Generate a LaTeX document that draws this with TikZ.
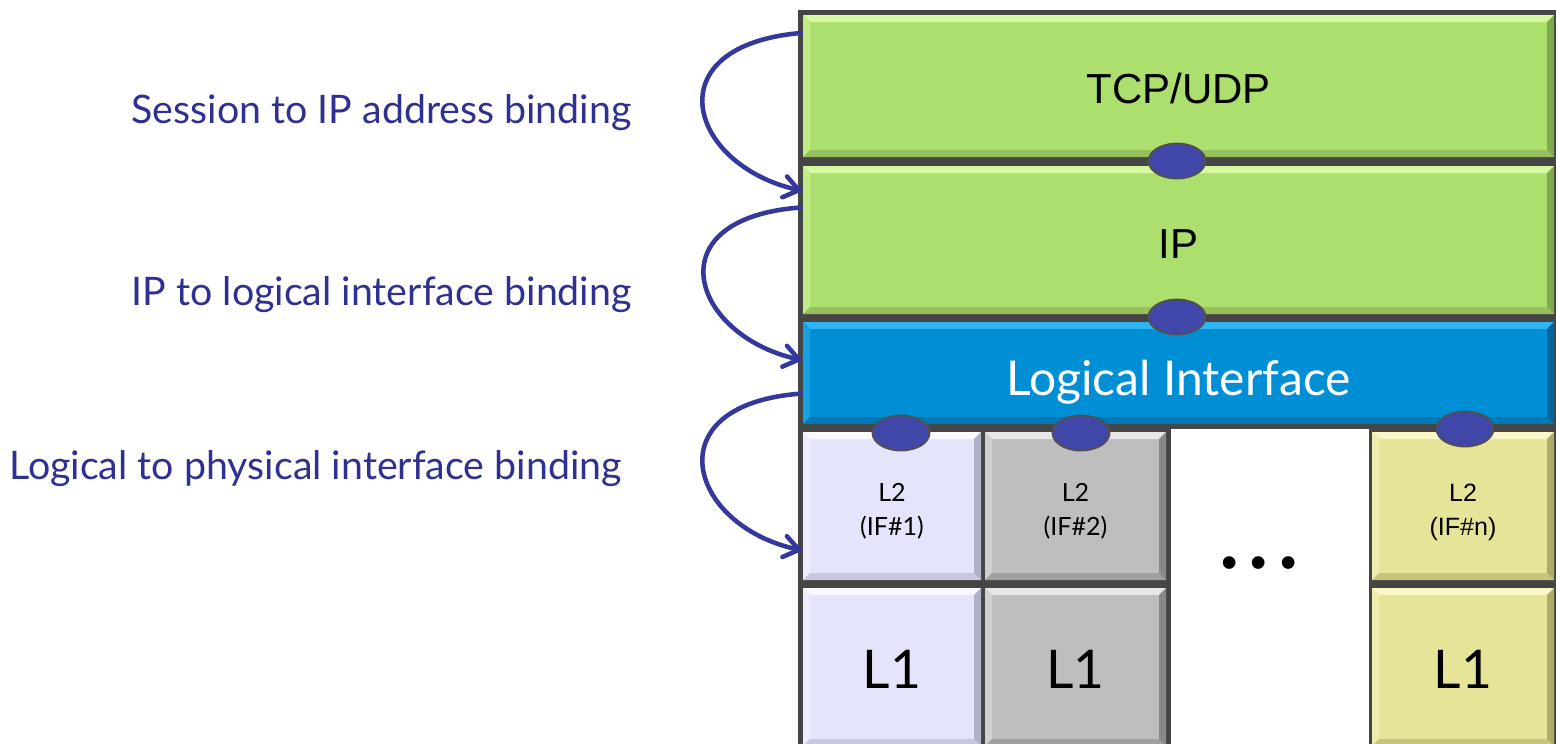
\documentclass[tikz,border=0pt]{standalone}
\usepackage{fontspec}
\setmainfont{Lato}
\newfontfamily\arial{Liberation Sans}
\usetikzlibrary{arrows.meta,shapes.geometric,calc}
\definecolor{frame}{HTML}{454545}
\definecolor{gbase}{HTML}{ADDF6F}
\definecolor{glight}{HTML}{D6FAA0}
\definecolor{gdark}{HTML}{7FA94C}
\definecolor{bbase}{HTML}{008FD5}
\definecolor{blight}{HTML}{2FB6F2}
\definecolor{bdark}{HTML}{00659C}
\definecolor{lbase}{HTML}{E4E4FB}
\definecolor{llight}{HTML}{F9F9FF}
\definecolor{ldark}{HTML}{B0B0C6}
\definecolor{sbase}{HTML}{BEBEBE}
\definecolor{slight}{HTML}{E6E6E6}
\definecolor{sdark}{HTML}{888888}
\definecolor{ybase}{HTML}{E6E499}
\definecolor{ylight}{HTML}{F9F8C6}
\definecolor{ydark}{HTML}{AEAC6A}
\definecolor{ellc}{HTML}{4147A8}
\definecolor{elledge}{HTML}{505050}
\definecolor{labc}{HTML}{2E3192}
\definecolor{arrc}{HTML}{33389A}
\newcommand{\placetxt}[2]{\raisebox{#1}[0pt][0pt]{\begin{tabular}[t]{@{}c@{}}#2\end{tabular}}}
\begin{document}
\begin{tikzpicture}[x=0.75pt,y=-0.75pt,
  bev/.style n args={3}{fill=#1, path picture={
    \path (path picture bounding box.north west) coordinate (ppnw)
          (path picture bounding box.north east) coordinate (ppne)
          (path picture bounding box.south west) coordinate (ppsw)
          (path picture bounding box.south east) coordinate (ppse);
    \fill[#2] (ppnw) -- (ppne) -- ([shift={(-5.25pt,-5.25pt)}]ppne) -- ([shift={(5.25pt,-5.25pt)}]ppnw) -- cycle;
    \fill[#1!55!#2] (ppnw) -- ([shift={(5.25pt,-5.25pt)}]ppnw) -- ([shift={(5.25pt,5.25pt)}]ppsw) -- (ppsw) -- cycle;
    \fill[#1!45!#3] (ppsw) -- (ppse) -- ([shift={(-5.25pt,5.25pt)}]ppse) -- ([shift={(5.25pt,5.25pt)}]ppsw) -- cycle;
    \fill[#3] (ppne) -- ([shift={(-5.25pt,-5.25pt)}]ppne) -- ([shift={(-5.25pt,5.25pt)}]ppse) -- (ppse) -- cycle;
  }},
  cell/.style={rectangle, inner sep=0pt, draw=none, align=center},
  greencell/.style={cell, bev={gbase}{glight}{gdark}, font=\arial\fontsize{31.5}{36}\selectfont},
  bluecell/.style={cell, bev={bbase}{blight}{bdark}, text=white, font=\fontsize{36}{42}\selectfont},
  lavcell/.style={cell, bev={lbase}{llight}{ldark}},
  graycell/.style={cell, bev={sbase}{slight}{sdark}},
  yelcell/.style={cell, bev={ybase}{ylight}{ydark}},
  l2font/.style={font=\fontsize{18.8}{25.5}\selectfont},
  l2arial/.style={font=\arial\fontsize{18.8}{25.5}\selectfont},
  l1font/.style={font=\fontsize{40}{44}\selectfont},
  joint/.style={ellipse, fill=ellc, draw=elledge, line width=1.4pt, inner sep=0pt,
    minimum width=42.75pt, minimum height=26.25pt},
  lab/.style={text=labc, font=\fontsize{29.5}{34}\selectfont, anchor=base east, inner sep=0pt},
  bind/.style={draw=arrc, line width=3.4pt, -{Straight Barb[length=11pt,width=16pt,line cap=round]}}
]
\useasboundingbox (0,0) rectangle (1556,743);
\clip (0,0) rectangle (1556,743);
\fill[white] (0,0) rectangle (1556,743);
% frame
\fill[frame] (798,10) rectangle (1556,750);
\fill[white] (1171,429) rectangle (1369,750);
% cells
\node[greencell, minimum width=563.25pt, minimum height=106.5pt] (tcp) at (1178.5,86) {\placetxt{-12.75pt}{TCP/UDP}};
\node[greencell, minimum width=563.25pt, minimum height=111pt] (ip) at (1178.5,240) {\placetxt{-13.5pt}{IP}};
\node[bluecell, minimum width=563.25pt, minimum height=76.5pt] (li) at (1178.5,373) {\placetxt{-16.5pt}{Logical Interface}};
\node[lavcell, l2font, minimum width=133.5pt, minimum height=111pt] (l2a) at (892,506) {\placetxt{3.75pt}{L2\\(IF\#1)}};
\node[graycell, l2font, minimum width=135.75pt, minimum height=111pt] (l2b) at (1075.5,506) {\placetxt{3.75pt}{L2\\(IF\#2)}};
\node[yelcell, l2arial, minimum width=136.5pt, minimum height=111pt] (l2n) at (1463,506) {\placetxt{3.75pt}{L2\\(IF\#n)}};
\node[lavcell, l1font, minimum width=133.5pt, minimum height=118.5pt] (l1a) at (892,667) {\placetxt{-15.75pt}{L1}};
\node[graycell, l1font, minimum width=135.75pt, minimum height=118.5pt] (l1b) at (1075.5,667) {\placetxt{-15.75pt}{L1}};
\node[yelcell, l1font, minimum width=136.5pt, minimum height=118.5pt] (l1n) at (1463,667) {\placetxt{-15.75pt}{L1}};
\node[anchor=base, inner sep=0pt, font=\arial\fontsize{35}{40}\selectfont] (dots) at (1259,578) {• • •};
% joints
\node[joint] (e1) at (1177,161) {};
\node[joint] (e2) at (1177,317) {};
\node[joint] (e3) at (901,433) {};
\node[joint] (e4) at (1081,433) {};
\node[joint] (e5) at (1465,429) {};
% labels
\node[lab] (t1) at (632,123) {Session to IP address binding};
\node[lab] (t2) at (632,305) {IP to logical interface binding};
\node[lab] (t3) at (622,479) {Logical to physical interface binding};
% binding arrows
\draw[bind] ($(tcp.north west)!0.127!(tcp.south west)$) .. controls +(-150,12) and +(-115,-26) .. ($(ip.north west)!0.17!(ip.south west)$);
\draw[bind] ($(ip.north west)!0.28!(ip.south west)$) .. controls +(-150,10) and +(-112,-25) .. ($(li.north west)!0.376!(li.south west)$);
\draw[bind] ($(li.north west)!0.70!(li.south west)$) .. controls +(-150,10) and +(-115,-25) .. ($(l2a.north west)!0.80!(l2a.south west)$);
\end{tikzpicture}
\end{document}
